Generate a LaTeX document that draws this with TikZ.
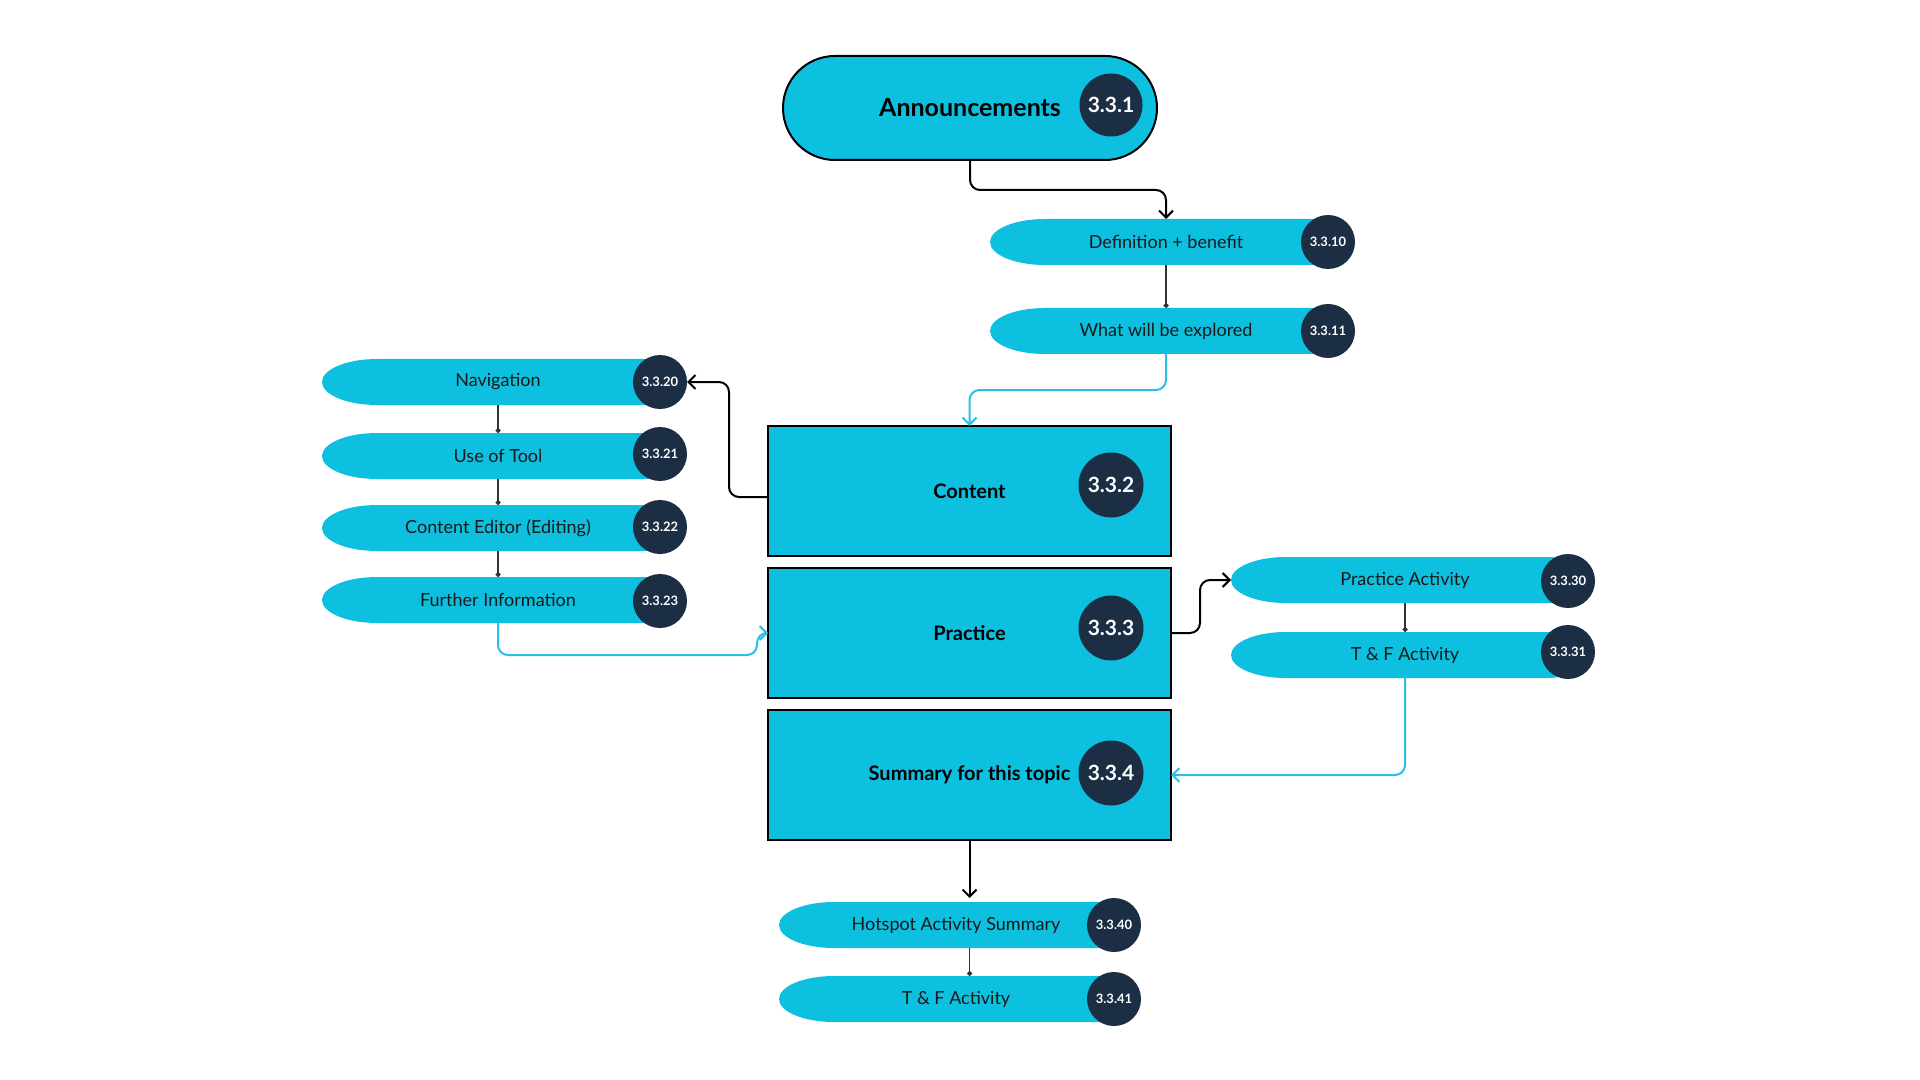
\documentclass[tikz,border=0pt]{standalone}
\usepackage{fontspec}
\setmainfont{Lato}
\usetikzlibrary{arrows.meta,calc}
\definecolor{cyfill}{HTML}{0EC0DF}
\definecolor{navy}{HTML}{1B2E44}
\definecolor{lcy}{HTML}{2BBFE3}
\definecolor{dg}{HTML}{333333}
% #1 name, #2 cx, #3 cy, #4 half width (px), #5 text, #6 badge x, #7 badge y, #8 number
\newcommand\pillnode[8]{%
  \fill[cyfill] (#2-#4+55,#3-23) -- (#2+#4-30,#3-23)
     arc[start angle=270,end angle=450,x radius=30,y radius=23]
     -- (#2-#4+55,#3+23)
     arc[start angle=90,end angle=270,x radius=55,y radius=23] -- cycle;
  \node[pilltext, minimum width=#4pt] (#1) at (#2,#3) {#5};
  \node[badge] (#1-n) at (#6,#7) {#8};
}
\begin{document}
\begin{tikzpicture}[x=0.5pt,y=-0.5pt,
  pilltext/.style={inner sep=0pt, outer sep=0pt, minimum height=23pt,
    font=\fontsize{9}{10.8}\selectfont, text=black!90},
  badge/.style={circle, fill=navy, text=white, inner sep=0pt, outer sep=0pt,
    minimum size=27pt, font=\bfseries\fontsize{6.5}{7.5}\selectfont},
  bigbadge/.style={badge, minimum size=32.5pt, font=\bfseries\fontsize{10.5}{12}\selectfont},
  boxnode/.style={draw=black, line width=1pt, fill=cyfill, minimum width=201.5pt,
    minimum height=65pt, inner sep=0pt, outer sep=0pt, font=\bfseries\fontsize{10}{12}\selectfont},
  blk/.style={draw=black, line width=1pt, rounded corners=5pt,
    -{Straight Barb[length=3.5pt,width=7pt]}},
  cyl/.style={draw=lcy, line width=1pt, rounded corners=5pt,
    -{Straight Barb[length=3.5pt,width=7pt]}},
  dotl/.style={draw=dg, line width=0.6pt, -{Circle[length=2.5pt]}}
]
\fill[white] (0,0) rectangle (1920,1080);
\useasboundingbox (0,0) rectangle (1920,1080);

% Announcements
\node[draw=black, line width=1pt, fill=cyfill, rounded corners=26pt,
  minimum width=187pt, minimum height=52pt, inner sep=0pt, outer sep=0pt,
  font=\bfseries\fontsize{12.5}{14}\selectfont] (ann) at (970,108) {Announcements};
\node[bigbadge, minimum size=31.5pt] (ann-n) at (1111,105) {3.3.1};

% Boxes
\node[boxnode] (content) at (969.5,491) {Content};
\node[bigbadge] (content-n) at (1111,485) {3.3.2};
\node[boxnode] (prac) at (969.5,633) {Practice};
\node[bigbadge] (prac-n) at (1111,628) {3.3.3};
\node[boxnode] (summ) at (969.5,775) {Summary for this topic};
\node[bigbadge] (summ-n) at (1111,773) {3.3.4};

% Pills
\pillnode{def}{1166}{242}{176}{Definition + benefit}{1328}{242}{3.3.10}
\pillnode{what}{1166}{331}{176}{What will be explored}{1328}{331}{3.3.11}
\pillnode{nav}{498}{382}{176}{Navigation}{660}{382}{3.3.20}
\pillnode{use}{498}{456}{176}{Use of Tool}{660}{454}{3.3.21}
\pillnode{edit}{498}{528}{176}{Content Editor (Editing)}{660}{527}{3.3.22}
\pillnode{fur}{498}{600}{176}{Further Information}{660}{601}{3.3.23}
\pillnode{pa}{1405}{580}{174}{Practice Activity}{1568}{581}{3.3.30}
\pillnode{tfa}{1405}{655}{174}{T \& F Activity}{1568}{652}{3.3.31}
\pillnode{hot}{956}{925}{177}{Hotspot Activity Summary}{1114}{925}{3.3.40}
\pillnode{tfb}{956}{999}{177}{T \& F Activity}{1114}{999}{3.3.41}

% Connectors
\draw[blk] (ann.south) -- ++(0,30) -| (def.north);
\draw[dotl] (def.south) -- (what.north);
\draw[cyl] (what.south) -- ++(0,36) -| (content.north);
\draw[blk] ($(content.west)+(0,6)$) -- ++(-39,0) |- (nav-n.east);
\draw[dotl] (nav.south) -- (use.north);
\draw[dotl] (use.south) -- (edit.north);
\draw[dotl] (edit.south) -- (fur.north);
\draw[cyl] (fur.south) -- ++(0,32) -| ($(prac.west)+(-11,0)$) -- (prac.west);
\draw[blk] (prac.east) -- ++(29,0) |- (pa.west);
\draw[dotl] (pa.south) -- (tfa.north);
\draw[cyl] (tfa.south) |- (summ.east);
\draw[blk] (summ.south) -- ($(summ.south |- hot.north)+(0,-4)$);
\draw[dotl] (summ.south |- hot.south) -- (summ.south |- tfb.north);
\end{tikzpicture}
\end{document}
